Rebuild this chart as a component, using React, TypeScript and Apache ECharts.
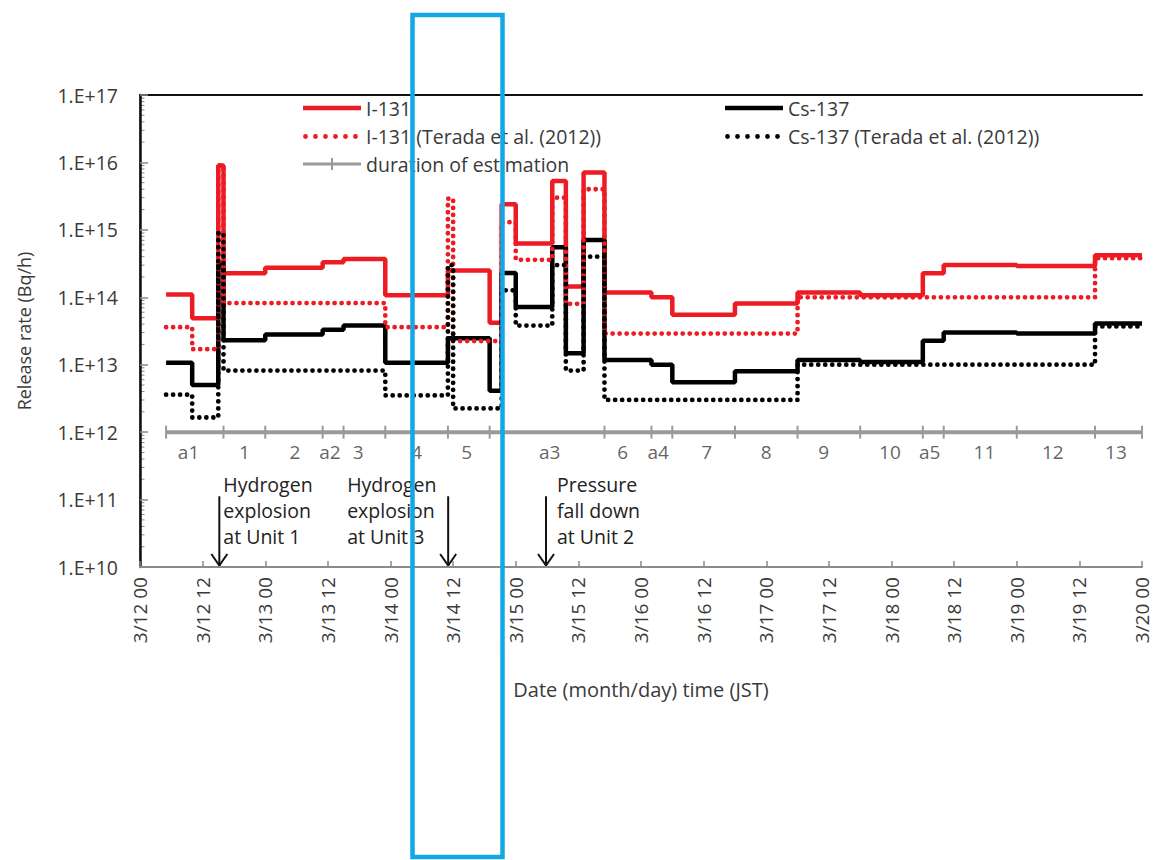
import React, { useEffect, useRef } from 'react';
import * as echarts from 'echarts';

// step boundaries (hours after 3/12 00:00 JST)
const stepHours = [5, 10, 15, 16, 24, 35, 39, 47, 59, 60, 67, 69.3, 72, 79, 81.6, 85, 89, 98, 102, 114, 126, 138, 150, 154, 168, 183, 192];
const i131 = [1.1e14, 4.9e13, 9e15, 2.27e14, 2.75e14, 3.3e14, 3.7e14, 1.07e14, 2.5e14, 2.5e14, 4.2e13, 2.4e15, 6.3e14, 5.3e15, 1.44e14, 7.1e15, 1.18e14, 1.0e14, 5.5e13, 8.1e13, 1.18e14, 1.07e14, 2.27e14, 3.0e14, 2.9e14, 4.2e14];
const cs137 = [1.07e13, 5e12, 3e14, 2.3e13, 2.8e13, 3.3e13, 3.8e13, 1.07e13, 2.47e13, 2.47e13, 4.1e12, 2.3e14, 7.2e13, 5.5e14, 1.48e13, 7.1e14, 1.17e13, 1.0e13, 5.5e12, 8.0e12, 1.17e13, 1.1e13, 2.27e13, 3.0e13, 2.9e13, 4.1e13];
const i131Terada = [3.6e13, 1.7e13, 9e15, 8.2e13, 8.2e13, 8.2e13, 8.2e13, 3.6e13, 2.9e15, 2.24e13, 2.24e13, 1.3e15, 3.6e14, 3.0e15, 8.0e13, 4.0e15, 2.9e13, 2.9e13, 2.9e13, 2.9e13, 1.0e14, 1.0e14, 1.0e14, 1.0e14, 1.0e14, 3.8e14];
const cs137Terada = [3.6e12, 1.65e12, 8.9e14, 8.2e12, 8.2e12, 8.2e12, 8.2e12, 3.5e12, 3.0e14, 2.25e12, 2.25e12, 1.27e14, 3.8e13, 3.0e14, 8.2e12, 4.0e14, 3.0e12, 3.0e12, 3.0e12, 3.0e12, 1.0e13, 1.0e13, 1.0e13, 1.0e13, 1.0e13, 3.7e13];

// duration of estimation
const durationHours = [5, 16, 24, 35, 39, 47, 59, 67, 89, 98, 102, 114, 126, 138, 150, 154, 168, 183, 192];
const durationLevel = 1e12;

// interval labels
const intervalNames = ['a1', '1', '2', 'a2', '3', '4', '5', 'a3', '6', 'a4', '7', '8', '9', '10', 'a5', '11', '12', '13'];
const intervalLabelHours = [9.3, 20, 29.7, 36.4, 41.8, 53, 62.6, 78.5, 92.5, 99.3, 108.6, 120, 131, 143.7, 151.3, 161.8, 174.9, 187];
const intervalLabelLevel = 5.1e11;

// events
const eventHours = [15.2, 59.05, 77.8];
const eventTexts = ['Hydrogen\nexplosion\nat Unit 1', 'Hydrogen\nexplosion\nat Unit 3', 'Pressure\nfall down\nat Unit 2'];
const eventTextOffsets = [4, -101, 11];
const arrowTopLevel = 1.12e11;

const yMin = 1e10;
const yMax = 1e17;

const RED = '#ED1C24';
const FONT = 'Open Sans';
const TXT = '#3a3a3a';

function toStep(values: number[]) {
  return stepHours.map((h, i) => [h, values[Math.min(i, values.length - 1)]]);
}

function hourLabel(h: number) {
  const day = 12 + Math.floor(h / 24);
  const hh = h % 24 === 0 ? '00' : '12';
  return `3/${day} ${hh}`;
}

const corners = 'M0,0 h0.01 v0.01 h-0.01 Z M58,13.99 h0.01 v0.01 h-0.01 Z ';
const solidIcon = 'path://' + corners + 'M0,4.7 L58,4.7 L58,9.3 L0,9.3 Z';
const dottedIcon = 'path://' + corners + [0, 1, 2, 3, 4, 5].map((k) => {
  const cx = 2.5 + 10 * k;
  return `M${cx - 2.4},7 a2.4,2.4 0 1,0 4.8,0 a2.4,2.4 0 1,0 -4.8,0 Z`;
}).join(' ');
const durationIcon = 'path://' + corners + 'M0,5.5 L58,5.5 L58,8.5 L0,8.5 Z M28,1 L30,1 L30,13 L28,13 Z';

export default function App() {
  const ref = useRef<HTMLDivElement>(null);
  useEffect(() => {
    document.body.style.margin = '0';
    const chart = echarts.init(ref.current!, undefined, { renderer: 'svg' });
    const dotted = [0.01, 7];
    const legendRow = (left: number, centerY: number, name: string, icon: string) => ({
      orient: 'horizontal', left, top: centerY - 10, padding: 0, itemWidth: 58, itemHeight: 14,
      textStyle: { fontSize: 19.5, color: TXT, fontFamily: FONT, lineHeight: 14, height: 14 },
      data: [{ name, icon }],
    });
    const option: any = {
      animation: false,
      textStyle: { fontFamily: FONT },
      grid: { left: 140, right: 14, top: 95, bottom: 293, containLabel: false },
      legend: [
        legendRow(303, 108, 'I-131', solidIcon),
        legendRow(303, 136.5, 'I-131 (Terada et al. (2012))', dottedIcon),
        legendRow(303, 164, 'duration of estimation', durationIcon),
        legendRow(725, 108, 'Cs-137', solidIcon),
        legendRow(725, 136.5, 'Cs-137 (Terada et al. (2012))', dottedIcon),
      ],
      xAxis: [
        {
          type: 'value', min: 0, max: 192, interval: 12,
          name: 'Date (month/day) time (JST)', nameLocation: 'middle', nameGap: 112,
          nameTextStyle: { fontSize: 20, color: TXT, fontFamily: FONT },
          axisLine: { show: true, lineStyle: { color: '#8a8a8a', width: 2 } },
          axisTick: { show: true, inside: true, length: 6, lineStyle: { color: '#8a8a8a', width: 1.5 } },
          axisLabel: { rotate: 90, margin: 10, fontSize: 19, color: TXT, fontFamily: FONT, formatter: (v: number) => hourLabel(v) },
          splitLine: { show: false },
        },
        {
          type: 'value', min: 0, max: 192, position: 'top',
          axisLine: { show: true, lineStyle: { color: '#111', width: 2 } },
          axisTick: { show: false }, axisLabel: { show: false }, splitLine: { show: false },
        },
      ],
      yAxis: [
        {
          type: 'log', logBase: 10, min: yMin, max: yMax,
          name: 'Release rate (Bq/h)', nameLocation: 'middle', nameGap: 107,
          nameTextStyle: { fontSize: 18, color: TXT, fontFamily: FONT },
          axisLine: { show: true, lineStyle: { color: '#8a8a8a', width: 2 } },
          axisTick: { show: true, inside: true, length: 8, lineStyle: { color: '#8a8a8a', width: 1.5 } },
          axisLabel: {
            fontSize: 19.5, color: TXT, fontFamily: FONT, margin: 22,
            formatter: (v: number) => '1.E+' + Math.round(Math.log10(v)),
          },
          splitLine: { show: false },
        },
        {
          type: 'value', min: 0, max: 1, position: 'right',
          axisLine: { show: true, lineStyle: { color: '#111', width: 2.5 } },
          axisTick: { show: false }, axisLabel: { show: false }, splitLine: { show: false },
        },
      ],
      series: [
        {
          name: 'I-131', type: 'line', step: 'end', data: toStep(i131), symbol: 'none',
          color: RED, lineStyle: { color: RED, width: 4.5 }, z: 2,
        },
        {
          name: 'Cs-137', type: 'line', step: 'end', data: toStep(cs137), symbol: 'none',
          color: '#000', lineStyle: { color: '#000', width: 4.5 }, z: 3,
        },
        {
          name: 'I-131 (Terada et al. (2012))', type: 'line', step: 'end', data: toStep(i131Terada), symbol: 'none',
          color: RED, lineStyle: { color: RED, width: 4.8, type: dotted, cap: 'round' }, z: 4,
        },
        {
          name: 'Cs-137 (Terada et al. (2012))', type: 'line', step: 'end', data: toStep(cs137Terada), symbol: 'none',
          color: '#000', lineStyle: { color: '#000', width: 4.8, type: dotted, cap: 'round' }, z: 5,
        },
        {
          name: 'duration of estimation', type: 'line', data: durationHours.map((h) => [h, durationLevel]),
          symbol: 'rect', symbolSize: [2, 13], showSymbol: true, color: '#9a9a9a',
          itemStyle: { color: '#9a9a9a' }, lineStyle: { color: '#9a9a9a', width: 4 }, z: 6,
        },
        {
          name: 'intervals', type: 'scatter', symbolSize: 0, silent: true,
          data: intervalLabelHours.map((h, i) => ({ value: [h, intervalLabelLevel], name: intervalNames[i] })),
          label: { show: true, position: 'inside', formatter: (p: any) => p.name, fontSize: 19, color: TXT, fontFamily: FONT },
          z: 7,
        },
      ],
    };
    chart.setOption(option);

    const graphics: any[] = [];
    const x0 = 140;
    for (let d = 10; d < 17; d++) {
      for (let k = 2; k <= 9; k++) {
        const y = chart.convertToPixel({ yAxisIndex: 0 }, k * Math.pow(10, d)) as number;
        graphics.push({ type: 'line', shape: { x1: x0, y1: y, x2: x0 + 4.5, y2: y }, style: { stroke: '#8a8a8a', lineWidth: 1 }, silent: true });
      }
    }
    eventHours.forEach((h, i) => {
      const top = chart.convertToPixel({ xAxisIndex: 0, yAxisIndex: 0 }, [h, arrowTopLevel]) as number[];
      const tip = chart.convertToPixel({ xAxisIndex: 0, yAxisIndex: 0 }, [h, yMin]) as number[];
      const x = top[0];
      graphics.push({ type: 'line', shape: { x1: x, y1: top[1], x2: x, y2: tip[1] - 1 }, style: { stroke: '#111', lineWidth: 2 }, silent: true });
      graphics.push({
        type: 'polyline',
        shape: { points: [[x - 8, tip[1] - 13], [x, tip[1] - 1.5], [x + 8, tip[1] - 13]] },
        style: { stroke: '#111', lineWidth: 2, fill: 'none' }, silent: true,
      });
      graphics.push({
        type: 'text', x: x + eventTextOffsets[i], y: 471,
        style: { text: eventTexts[i], fontSize: 19.5, fontFamily: FONT, fill: '#222', lineHeight: 26, verticalAlign: 'top' },
        silent: true,
      });
    });
    graphics.push({
      type: 'rect', z: 100, silent: true,
      shape: { x: 412.5, y: 15, width: 90, height: 842 },
      style: { fill: 'none', stroke: '#12A8E6', lineWidth: 4.5 },
    });
    chart.setOption({ graphic: graphics });

    return () => chart.dispose();
  }, []);
  return <div ref={ref} style={{ width: 1156, height: 860 }} />;
}
